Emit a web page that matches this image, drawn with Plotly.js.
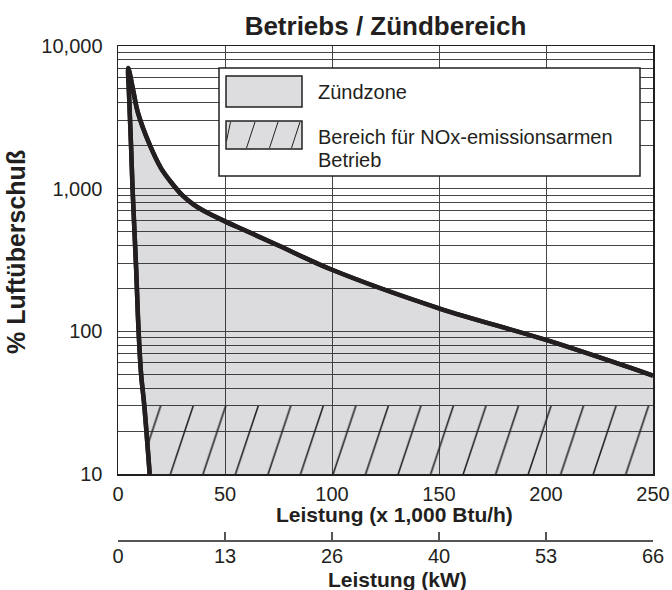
<!DOCTYPE html>
<html>
<head>
<meta charset="utf-8">
<script src="https://cdn.plot.ly/plotly-3.0.1.min.js"></script>
<style>html,body{margin:0;padding:0;background:#fff;}#chart{width:672px;height:590px;}</style>
</head>
<body>
<div id="chart"></div>
<script>
// ---- data ----
const btuTicks = [0, 50, 100, 150, 200, 250];
const kwLabels = ['0', '13', '26', '40', '53', '66'];
const yTicks = [10, 100, 1000, 10000];
const yTickText = ['10', '100', '1,000', '10,000'];
const yMinor = [20, 30, 40, 50, 60, 70, 80, 90,
                200, 300, 400, 500, 600, 700, 800, 900,
                2000, 3000, 4000, 5000, 6000, 7000, 8000, 9000];
// left (lean) boundary, from bottom to top
const leftX = [14.8, 12.3, 10.8, 9.5, 8.5, 6.8, 6.1, 5.1, 4.8];
const leftY = [10, 30, 50, 110, 270, 1000, 2000, 4800, 7000];
// upper boundary, from the top towards the right
const upperX = [7.2, 9.2, 15, 20, 25, 30, 35, 40, 50, 60, 75, 100, 150, 200, 250];
const upperY = [4800, 3460, 2000, 1400, 1100, 900, 780, 700, 590, 505, 400, 270, 145, 87, 49];
const lowNoxTop = 30;   // top of the low-NOx band (% excess air)

const ink = '#231f20';
const gridCol = '#464646';
const FONT = 'Liberation Sans, Arial, Helvetica, sans-serif';

const curveX = leftX.concat(upperX);
const curveY = leftY.concat(upperY);
const xMax = btuTicks[btuTicks.length - 1];

// low-NOx band: lower part of the left boundary, then across to the right edge
const bandX = [leftX[0], leftX[1], xMax];
const bandY = [leftY[0], lowNoxTop, lowNoxTop];

const curveLine = {color: ink, width: 4.5, shape: 'spline', smoothing: 1};

const traces = [
  { // ignition zone (filled under the boundary curve)
    x: curveX, y: curveY, type: 'scatter', mode: 'lines',
    line: curveLine,
    fill: 'tozeroy', fillcolor: 'rgba(40,40,55,0.16)',
    hoverinfo: 'skip', showlegend: false
  },
  { // low NOx hatched band
    x: bandX, y: bandY, type: 'scatter', mode: 'lines',
    line: {width: 0, color: 'rgba(0,0,0,0)'},
    fill: 'tozeroy', fillcolor: 'rgba(0,0,0,0)',
    fillpattern: {shape: '/', size: 23, solidity: 0.05, fgcolor: ink, fgopacity: 1,
                  bgcolor: 'rgba(0,0,0,0)', fillmode: 'replace'},
    hoverinfo: 'skip', showlegend: false
  },
  { // boundary curve on top
    x: curveX, y: curveY, type: 'scatter', mode: 'lines',
    line: curveLine, hoverinfo: 'skip', showlegend: false
  },
  { // carrier for the kW axis
    x: [], y: [], xaxis: 'x2', type: 'scatter', mode: 'lines', showlegend: false, hoverinfo: 'skip'
  }
];

// pixel helpers for hand-placed legend and titles
const PL = 118, PR = 653, PT = 46, PB = 474, FB = 540;
const dx = px => (px - PL) / (PR - PL);
const dy = py => (PB - py) / (PB - PT);
const py2paper = py => (FB - py) / (FB - PT);

const shapes = [
  {type: 'rect', xref: 'x domain', yref: 'y domain', x0: dx(219), x1: dx(640), y0: dy(176), y1: dy(68),
   fillcolor: '#ffffff', line: {color: ink, width: 1.5}, layer: 'above'},
  {type: 'rect', xref: 'x domain', yref: 'y domain', x0: dx(226), x1: dx(302), y0: dy(107), y1: dy(76),
   fillcolor: '#dddddf', line: {color: ink, width: 1.5}, layer: 'above'},
  {type: 'rect', xref: 'x domain', yref: 'y domain', x0: dx(226), x1: dx(302), y0: dy(149), y1: dy(121),
   fillcolor: '#dddddf', line: {color: ink, width: 1.5}, layer: 'above'}
];
[[226.5, 141, 230.5, 122], [246.5, 148, 255, 122], [269.5, 148, 278, 122], [291.5, 148, 300, 122]].forEach(s => {
  shapes.push({type: 'line', xref: 'x domain', yref: 'y domain', x0: dx(s[0]), y0: dy(s[1]), x1: dx(s[2]), y1: dy(s[3]),
               line: {color: ink, width: 1}, layer: 'above'});
});

const legFont = {family: FONT, size: 20, color: ink};
const titleFont = {family: FONT, size: 21, color: ink, weight: 'bold'};
const annotations = [
  {xref: 'x domain', yref: 'y domain', x: dx(316), y: dy(92), text: 'Zündzone', showarrow: false,
   xanchor: 'left', yanchor: 'middle', font: legFont},
  {xref: 'x domain', yref: 'y domain', x: dx(316), y: dy(137), text: 'Bereich für NOx-emissionsarmen', showarrow: false,
   xanchor: 'left', yanchor: 'middle', font: legFont},
  {xref: 'x domain', yref: 'y domain', x: dx(316), y: dy(160), text: 'Betrieb', showarrow: false,
   xanchor: 'left', yanchor: 'middle', font: legFont},
  // axis titles
  {xref: 'paper', yref: 'paper', x: dx(394), y: py2paper(514), text: 'Leistung (x 1,000 Btu/h)', showarrow: false,
   xanchor: 'center', yanchor: 'middle', font: titleFont},
  {xref: 'paper', yref: 'paper', x: dx(397), y: py2paper(579), text: 'Leistung (kW)', showarrow: false,
   xanchor: 'center', yanchor: 'middle', font: titleFont},
  {xref: 'paper', yref: 'paper', x: dx(16), y: py2paper(252), text: '% Luftüberschuß', showarrow: false,
   textangle: -90, xanchor: 'center', yanchor: 'middle', font: {family: FONT, size: 25, color: ink, weight: 'bold'}}
];

const tickFont = {family: FONT, size: 20, color: ink};

const layout = {
  width: 672, height: 590,
  margin: {l: PL, r: 672 - PR, t: PT, b: 590 - FB},
  paper_bgcolor: '#ffffff', plot_bgcolor: '#ffffff',
  font: {family: FONT, color: ink},
  showlegend: false,
  title: {text: 'Betriebs / Zündbereich', font: {family: FONT, size: 26, color: ink, weight: 'bold'},
          x: 0.5, xref: 'paper', y: 1 - 26 / 590, yref: 'container', yanchor: 'middle'},
  xaxis: {
    range: [0, xMax], tickvals: btuTicks, ticktext: btuTicks.map(String),
    showgrid: true, gridcolor: gridCol, gridwidth: 1, zeroline: false,
    showline: true, mirror: true, linecolor: ink, linewidth: 1.5,
    ticks: '', ticklabelstandoff: 1, tickfont: tickFont
  },
  xaxis2: {
    overlaying: 'x', anchor: 'free', position: 0, side: 'bottom',
    range: [0, xMax], tickvals: btuTicks, ticktext: kwLabels,
    showgrid: false, zeroline: false,
    showline: true, linecolor: '#555555', linewidth: 1.5,
    ticks: 'inside', ticklen: 8, tickwidth: 1.5, tickcolor: '#555555',
    ticklabelstandoff: -3, tickfont: tickFont
  },
  yaxis: {
    type: 'log', range: [1, 4], domain: [(FB - PB) / (FB - PT), 1],
    tickvals: yTicks, ticktext: yTickText,
    showgrid: true, gridcolor: gridCol, gridwidth: 1, zeroline: false,
    minor: {tickvals: yMinor, showgrid: true, gridcolor: gridCol, gridwidth: 1, ticks: ''},
    showline: true, mirror: true, linecolor: ink, linewidth: 1.5,
    ticks: '', ticklabelstandoff: 10, tickfont: tickFont
  },
  shapes: shapes,
  annotations: annotations
};

Plotly.newPlot('chart', traces, layout, {staticPlot: true, displayModeBar: false}).then(gd => {
  // make the library's "/" hatch steeper, as in the original drawing
  gd.querySelectorAll('pattern').forEach(p => {
    const t = p.getAttribute('patternTransform');
    p.setAttribute('patternTransform', (t ? t + ' ' : '') + 'scale(1,3)');
  });
});
</script>
</body>
</html>
